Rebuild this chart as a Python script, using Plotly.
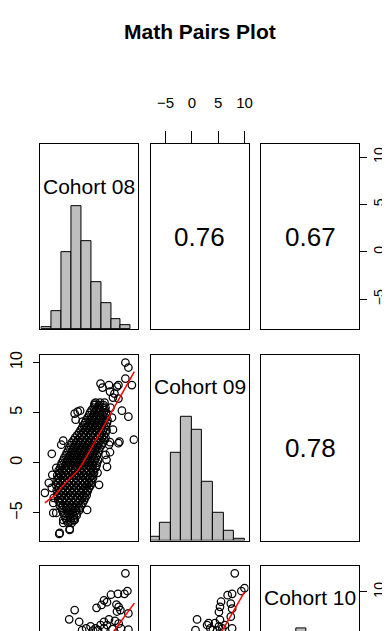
import plotly.graph_objects as go

# ---------------- data ----------------
title_text = "Math Pairs Plot"
var_names = ["Cohort 08", "Cohort 09", "Cohort 10"]
corr_text = ["0.76", "0.67", "0.78"]          # panels (1,2), (1,3), (2,3)

c08_range = [-8.18, 11.36]
c09_range = [-7.76, 10.77]
c10_range = [-7.2, 12.74]
axis_ticks = [-5, 0, 5, 10]

hist_breaks = [-8, -6, -4, -2, 0, 2, 4, 6, 8, 10]
c08_counts = [2, 18, 78, 124, 89, 47, 26, 10, 4]
c09_counts = [3, 16, 79, 112, 100, 53, 25, 9, 2]
c10_breaks = [-8, -6, -4, -2, 0, 2, 4, 6, 8, 10, 12, 14]
c10_counts = [1, 8, 30, 75, 120, 95, 45, 20, 8, 3, 1]

# Cohort 08 (x) vs Cohort 09 (y): dense core, read row by row
core21_y = [6.0, 5.75, 5.5, 5.25, 5.0, 4.75, 4.5, 4.25, 4.0, 3.75, 3.5, 3.25,
            3.0, 2.75, 2.5, 2.25, 2.0, 1.75, 1.5, 1.25, 1.0, 0.75, 0.5, 0.25,
            0.0, -0.25, -0.5, -0.75, -1.0, -1.25, -1.5, -1.75, -2.0, -2.25,
            -2.5, -2.75, -3.0, -3.25, -3.5, -3.75, -4.0, -4.25, -4.5, -4.75,
            -5.0, -5.25, -5.5, -5.75, -6.0]
core21_x = [
    [2.9, 3.8, 4.7],
    [2.7, 3.6, 4.5],
    [2.5, 3.4, 4.3, 4.9],
    [2.1, 3.0, 3.9, 4.8],
    [1.8, 2.7, 3.6, 4.5, 5.0],
    [1.6, 2.5, 3.4, 4.3, 5.1],
    [1.3, 2.2, 3.1, 4.0, 4.9],
    [1.0, 1.9, 2.8, 3.7, 4.6, 5.3],
    [0.8, 1.7, 2.6, 3.5, 4.4, 5.2],
    [0.5, 1.4, 2.3, 3.2, 4.1, 5.0],
    [0.2, 1.1, 2.0, 2.9, 3.8, 4.7],
    [-0.1, 0.8, 1.7, 2.6, 3.5, 4.4, 5.1],
    [-0.4, 0.5, 1.4, 2.3, 3.2, 4.1, 4.9],
    [-0.8, 0.1, 1.0, 1.9, 2.8, 3.7, 4.6],
    [-1.2, -0.3, 0.6, 1.5, 2.4, 3.3, 4.2, 4.9],
    [-1.5, -0.6, 0.3, 1.2, 2.1, 3.0, 3.9, 4.7],
    [-1.9, -1.0, -0.1, 0.8, 1.7, 2.6, 3.5, 4.4],
    [-2.1, -1.2, -0.3, 0.6, 1.5, 2.4, 3.3, 4.1],
    [-2.4, -1.5, -0.6, 0.3, 1.2, 2.1, 3.0, 3.7],
    [-2.6, -1.7, -0.8, 0.1, 1.0, 1.9, 2.8, 3.6],
    [-2.9, -2.0, -1.1, -0.2, 0.7, 1.6, 2.5, 3.4],
    [-3.1, -2.2, -1.3, -0.4, 0.5, 1.4, 2.3, 3.2],
    [-3.4, -2.5, -1.6, -0.7, 0.2, 1.1, 2.0, 2.9],
    [-3.6, -2.7, -1.8, -0.9, 0.0, 0.9, 1.8, 2.7, 3.4],
    [-3.9, -3.0, -2.1, -1.2, -0.3, 0.6, 1.5, 2.4, 3.2],
    [-4.0, -3.1, -2.2, -1.3, -0.4, 0.5, 1.4, 2.3, 3.1],
    [-4.2, -3.4, -2.5, -1.6, -0.7, 0.2, 1.1, 2.0, 2.9],
    [-4.5, -3.8, -2.9, -2.0, -1.1, -0.2, 0.7, 1.6, 2.5],
    [-4.4, -3.5, -2.6, -1.7, -0.8, 0.1, 1.0, 1.9, 2.6],
    [-4.8, -4.0, -3.1, -2.2, -1.3, -0.4, 0.5, 1.4, 2.3],
    [-4.6, -3.7, -2.8, -1.9, -1.0, -0.1, 0.8, 1.7, 2.4],
    [-4.9, -4.2, -3.3, -2.4, -1.5, -0.6, 0.3, 1.2, 2.1],
    [-4.7, -3.8, -2.9, -2.0, -1.1, -0.2, 0.7, 1.5, 2.1],
    [-5.0, -4.2, -3.3, -2.4, -1.5, -0.6, 0.3, 1.1, 1.9],
    [-4.5, -3.6, -2.7, -1.8, -0.9, 0.0, 0.9, 1.6],
    [-4.9, -4.1, -3.2, -2.3, -1.4, -0.5, 0.4, 1.3],
    [-4.5, -3.6, -2.7, -1.8, -0.9, 0.0, 0.9],
    [-4.8, -3.9, -3.0, -2.1, -1.2, -0.3, 0.5, 1.1],
    [-4.3, -3.4, -2.5, -1.6, -0.7, 0.2, 0.8],
    [-4.6, -3.8, -2.9, -2.0, -1.1, -0.2, 0.6],
    [-4.2, -3.3, -2.4, -1.5, -0.6, 0.3],
    [-4.3, -3.6, -2.7, -1.8, -0.9, 0.0],
    [-3.9, -3.0, -2.1, -1.2, -0.3],
    [-3.8, -2.9, -2.0, -1.1, -0.4],
    [-3.5, -2.6, -1.7, -0.8],
    [-3.3, -2.4, -1.5, -0.9],
    [-3.1, -2.2, -1.4],
    [-2.9, -2.1, -1.5],
    [-2.6, -1.9],
]
# Cohort 08 vs Cohort 09: scattered outer points
out21 = [(8.9, 10.0), (9.5, 9.5), (10.2, 7.75), (7.5, 7.75), (8.9, 8.4), (7.2, 7.6),
         (6.7, 6.9), (3.9, 7.9), (4.3, 7.5), (5.6, 7.75), (5.8, 7.1), (6.4, 6.5),
         (7.5, 6.4), (8.2, 5.2), (9.5, 4.6), (10.6, 2.3), (7.7, 2.1), (5.8, 2.05),
         (6.4, 3.3), (2.7, 5.9), (-0.7, 5.1), (-1.3, 4.9), (-0.2, 5.2), (-1.1, 4.3),
         (0.3, 4.1), (-3.6, 2.2), (-4.0, 1.8), (-5.9, 0.9), (-5.0, -0.5), (-6.5, -2.0),
         (-7.3, -3.0), (-5.6, -4.0), (-5.6, -5.0), (-5.0, -5.0), (-3.6, -5.7),
         (-4.4, -7.1), (-4.3, -7.0), (-2.3, -6.6), (-1.3, -5.7), (1.2, -4.7),
         (1.3, -2.85), (3.6, -2.2), (3.3, -1.0), (5.2, -0.4), (4.9, 0.8), (5.6, 1.8),
         (7.5, 1.95), (5.1, 0.3), (5.8, 1.05), (-5.8, -1.2), (-5.9, -2.5),
         (-5.5, -3.5), (6.2, 4.5), (5.9, 5.5), (-3.6, -6.0), (-2.3, -6.7)]
smooth21 = [(-7.3, -4.0), (-5.2, -3.2), (-3.5, -2.2), (-2.2, -1.5), (-0.7, -0.8),
            (0.5, 0.1), (1.4, 0.9), (2.4, 1.8), (4.0, 3.2), (6.0, 4.9), (8.0, 6.7),
            (9.5, 8.0), (10.7, 9.1)]

# Cohort 08 (x) vs Cohort 10 (y): visible top part only
pts31 = [(8.9, 12.0), (8.7, 9.8), (9.3, 10.1), (7.4, 9.8), (6.0, 9.7), (4.6, 9.1),
         (3.1, 8.3), (4.1, 8.6), (5.2, 8.9), (7.1, 8.65), (7.55, 8.4), (7.2, 7.9),
         (7.9, 8.05), (9.5, 7.7), (-1.3, 8.05), (-2.4, 7.06), (-0.4, 6.8), (1.0, 6.1),
         (1.9, 6.3), (2.9, 6.1), (3.9, 6.45), (4.6, 6.8), (5.2, 6.45), (4.6, 6.1),
         (5.6, 7.05), (7.55, 6.6), (8.0, 6.1), (9.5, 5.95), (3.4, 5.9), (2.4, 5.85),
         (0.2, 5.9), (6.3, 6.0), (6.8, 6.9)]
smooth31 = [(3.0, 3.2), (6.6, 5.8), (10.7, 8.8)]

# Cohort 09 (x) vs Cohort 10 (y): visible top part only
pts32 = [(8.15, 12.0), (9.4, 10.1), (10.0, 10.4), (7.65, 9.8), (6.8, 9.65), (7.4, 8.75),
         (7.65, 8.2), (5.55, 8.95), (5.35, 8.4), (5.15, 7.85), (7.4, 7.35), (1.0, 7.05),
         (2.9, 6.45), (3.5, 6.1), (4.4, 6.65), (5.15, 6.3), (5.8, 6.1), (5.35, 7.0),
         (6.3, 6.45), (7.65, 6.1), (0.7, 5.9), (3.2, 6.65), (4.0, 5.9), (4.8, 5.85)]
smooth32 = [(3.0, 3.1), (5.8, 5.86), (10.0, 10.0)]

# ---------------- layout (pixels of the 390 x 631 page) ----------------
PAGE_W, PAGE_H = 390, 631
BODY = 8                      # default page margin around the plot div
W, H = PAGE_W - BODY, PAGE_H - BODY
col_px = [(38, 137), (150.5, 250), (263, 362.5)]
row_px = [(141, 327.5), (353, 540), (566, 753)]   # third row runs past the bottom edge
label_y_px = [184, 385, 597.5]
title_y_px = 28
FONT = "Liberation Sans, Arial, Helvetica, sans-serif"

var_ranges = [c08_range, c09_range, c10_range]
HIST_TOP = 1.5


def fx(p):
    return (p - BODY) / W


def fy(p):
    return 1 - (p - BODY) / H


def xdom(c):
    return [fx(col_px[c][0]), fx(col_px[c][1])]


def ydom(r):
    top, bot = row_px[r]
    return [max(fy(bot), 0), fy(top)]


def visible(r, rng):
    top, bot = row_px[r]
    f = (min(bot, PAGE_H) - top) / (bot - top)
    return [rng[1] - f * (rng[1] - rng[0]), rng[1]]


def ax_name(prefix, k):
    return prefix if k == 1 else f"{prefix}{k}"


fig = go.Figure()
layout = {}
annotations = []

base = dict(showgrid=False, zeroline=False, showticklabels=False, ticks="",
            showline=True, linecolor="black", linewidth=1.3, mirror=True,
            fixedrange=True)
rot_font = dict(family=FONT, size=16, color="black")
right_ticks = dict(side="right", ticks="outside", ticklen=7, tickwidth=1,
                   tickcolor="black", tickvals=axis_ticks, showticklabels=True,
                   tickangle=-90, ticklabelstandoff=0,
                   tickfont=dict(family=FONT, size=14, color="black"))

hist_data = {0: (hist_breaks, c08_counts), 1: (hist_breaks, c09_counts),
             2: (c10_breaks, c10_counts)}

for r in range(3):
    for c in range(3):
        k = r * 3 + c + 1
        xa = dict(base, domain=xdom(c), range=var_ranges[c],
                  anchor=ax_name("y", k))
        yr = [0, HIST_TOP] if r == c else var_ranges[r]
        ya = dict(base, domain=ydom(r), range=visible(r, yr),
                  anchor=ax_name("x", k))
        if r == 2:
            xa.update(side="top", mirror=False)
        if r == 0 and c == 1:
            xa.update(side="top", ticks="outside", ticklen=12, tickwidth=1,
                      tickcolor="black", tickvals=axis_ticks,
                      showticklabels=True, ticklabelstandoff=17,
                      tickfont=dict(family=FONT, size=15, color="black"))
        if r == 1 and c == 0:
            ya.update(side="left", ticks="outside", ticklen=6, tickwidth=1,
                      tickcolor="black", tickvals=axis_ticks,
                      showticklabels=True, tickangle=-90, ticklabelstandoff=5,
                      tickfont=rot_font)
        if r == 0 and c == 2:
            ya.update(**right_ticks)
        layout[ax_name("xaxis", k)] = xa
        layout[ax_name("yaxis", k)] = ya

        xref, yref = ax_name("x", k), ax_name("y", k)
        if r == c:
            br, cnt = hist_data[r]
            m = max(cnt)
            fig.add_trace(go.Bar(
                x=[(br[i] + br[i + 1]) / 2 for i in range(len(cnt))],
                y=[v / m for v in cnt],
                width=[br[i + 1] - br[i] for i in range(len(cnt))],
                marker=dict(color="#BEBEBE", line=dict(color="black", width=1)),
                xaxis=xref, yaxis=yref, hoverinfo="skip"))
            annotations.append(dict(
                text=var_names[r], xref="paper", yref="paper",
                x=fx((col_px[c][0] + col_px[c][1]) / 2), y=fy(label_y_px[r]),
                xanchor="center", yanchor="middle", showarrow=False,
                font=dict(family=FONT, size=21, color="black")))
        elif r < c:
            # empty panel that only carries the correlation text
            fig.add_trace(go.Scatter(x=[None], y=[None], mode="markers",
                                     xaxis=xref, yaxis=yref, hoverinfo="skip"))

# right-side ticks of the third row (Cohort 10 scale) on an overlaying axis
layout["yaxis10"] = dict(base, overlaying="y9", anchor="x9",
                         range=visible(2, c10_range), mirror=False, showline=False,
                         **right_ticks)
fig.add_trace(go.Scatter(x=[None], y=[None], xaxis="x9", yaxis="y10",
                         mode="markers", hoverinfo="skip"))

# correlation text in the upper panels
for (r, c), t in zip([(0, 1), (0, 2), (1, 2)], corr_text):
    annotations.append(dict(
        text=t, xref="paper", yref="paper",
        x=fx((col_px[c][0] + col_px[c][1]) / 2),
        y=fy((row_px[r][0] + row_px[r][1]) / 2),
        xanchor="center", yanchor="middle", showarrow=False,
        font=dict(family=FONT, size=26, color="black")))

# scatter panels
px21 = [x for row in core21_x for x in row] + [p[0] for p in out21]
py21 = [y for y, row in zip(core21_y, core21_x) for _ in row] + [p[1] for p in out21]
scatters = [(4, px21, py21, smooth21),
            (7, [p[0] for p in pts31], [p[1] for p in pts31], smooth31),
            (8, [p[0] for p in pts32], [p[1] for p in pts32], smooth32)]
for k, xs, ys, sm in scatters:
    fig.add_trace(go.Scatter(
        x=xs, y=ys, mode="markers", xaxis=f"x{k}", yaxis=f"y{k}",
        marker=dict(symbol="circle-open", size=7.5, color="black",
                    line=dict(width=1.25)), hoverinfo="skip"))
    fig.add_trace(go.Scatter(
        x=[p[0] for p in sm], y=[p[1] for p in sm], mode="lines",
        xaxis=f"x{k}", yaxis=f"y{k}", line=dict(color="red", width=1.5),
        hoverinfo="skip"))

annotations.append(dict(
    text=f"<b>{title_text}</b>", xref="paper", yref="paper",
    x=fx((col_px[0][0] + col_px[2][1]) / 2), y=fy(title_y_px),
    xanchor="center", yanchor="middle", showarrow=False,
    font=dict(family=FONT, size=21, color="black")))

fig.update_layout(**layout)
fig.update_layout(width=W, height=H, autosize=False,
                  margin=dict(l=0, r=0, t=0, b=0), showlegend=False,
                  paper_bgcolor="white", plot_bgcolor="white",
                  bargap=0, annotations=annotations)

fig.write_html("out.html")
